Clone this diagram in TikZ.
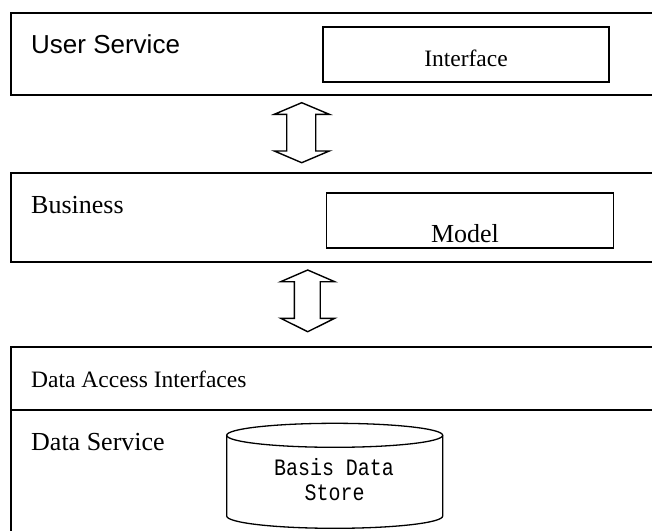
\documentclass[tikz,border=0pt]{standalone}
\usepackage{fontspec}
\setmainfont{Liberation Serif}
\newfontfamily\labelsans{Liberation Sans}
\newfontfamily\storemono[FakeStretch=0.85]{Liberation Mono}
\begin{document}
\begin{tikzpicture}[x=1pt,y=-1pt,line join=miter,
  layer/.style={line width=1.9pt},
  inbox/.style={draw,line width=1.7pt,inner sep=0pt},
  updown/.style={draw,line width=1.4pt,fill=white},
  drum/.style={line width=1.3pt},
  lbl/.style={anchor=base west,inner sep=0pt},
  ctr/.style={anchor=base,inner sep=0pt}]
\useasboundingbox (0,0) rectangle (652,530);
\clip (0,0) rectangle (652,530);

% layer frames (open to the right and below)
\draw[layer] (665,12.7) -- (11,12.7) -- (11,95) -- (665,95);
\draw[layer] (665,173) -- (11,173) -- (11,261.7) -- (665,261.7);
\draw[layer] (665,347) -- (11,347) -- (11,545);
\draw[layer] (11,409.7) -- (665,409.7);

% user service layer
\node[lbl] (user) at (31,53.3) {\labelsans\fontsize{26}{31}\selectfont User Service};
\node[inbox,minimum width=286.6pt,minimum height=54.4pt] (iface) at (466,54.5) {};
\node[ctr] (ifacetxt) at (466,66.7) {\fontsize{23.5}{28}\selectfont Interface};

% business layer
\node[lbl] (biz) at (31,213.3) {\fontsize{26}{31}\selectfont Business};
\node[inbox,minimum width=287.1pt,minimum height=54.4pt] (model) at (470,220.5) {};
\node[ctr] (modeltxt) at (465,242.7) {\fontsize{26}{31}\selectfont Model};

% data layer
\node[lbl] (dai) at (31,387.3) {\fontsize{23.5}{28}\selectfont Data Access Interfaces};
\node[lbl] (ds) at (31,450.7) {\fontsize{26}{31}\selectfont Data Service};

% data store drum
\coordinate (drumtop) at (334.7,435.3);
\coordinate (drumbot) at (334.7,516);
\draw[drum] (drumtop) ellipse [x radius=108,y radius=12];
\draw[drum] ([xshift=-108]drumtop) -- ([xshift=-108]drumbot)
  arc[start angle=180,end angle=360,x radius=108,y radius=-12.3]
  -- ([xshift=108]drumtop);
\node[ctr] (store1) at (334,475) {\storemono\fontsize{23.5}{28}\selectfont Basis Data};
\node[ctr] (store2) at (334.7,500.7) {\storemono\fontsize{23.5}{28}\selectfont Store};

% two-way arrows between layers
\draw[updown] (301.7,102.7) -- (329.3,114.3) -- (315.7,114.3) -- (315.7,151)
  -- (329.3,151) -- (301.7,162.7) -- (274.3,151) -- (286.7,151)
  -- (286.7,114.3) -- (274.3,114.3) -- cycle;
\draw[updown] (307.7,270) -- (334.7,281.7) -- (320.2,281.7) -- (320.2,318.3)
  -- (334.7,318.3) -- (307.7,331.7) -- (280.7,318.3) -- (294.4,318.3)
  -- (294.4,281.7) -- (280.7,281.7) -- cycle;
\end{tikzpicture}
\end{document}
